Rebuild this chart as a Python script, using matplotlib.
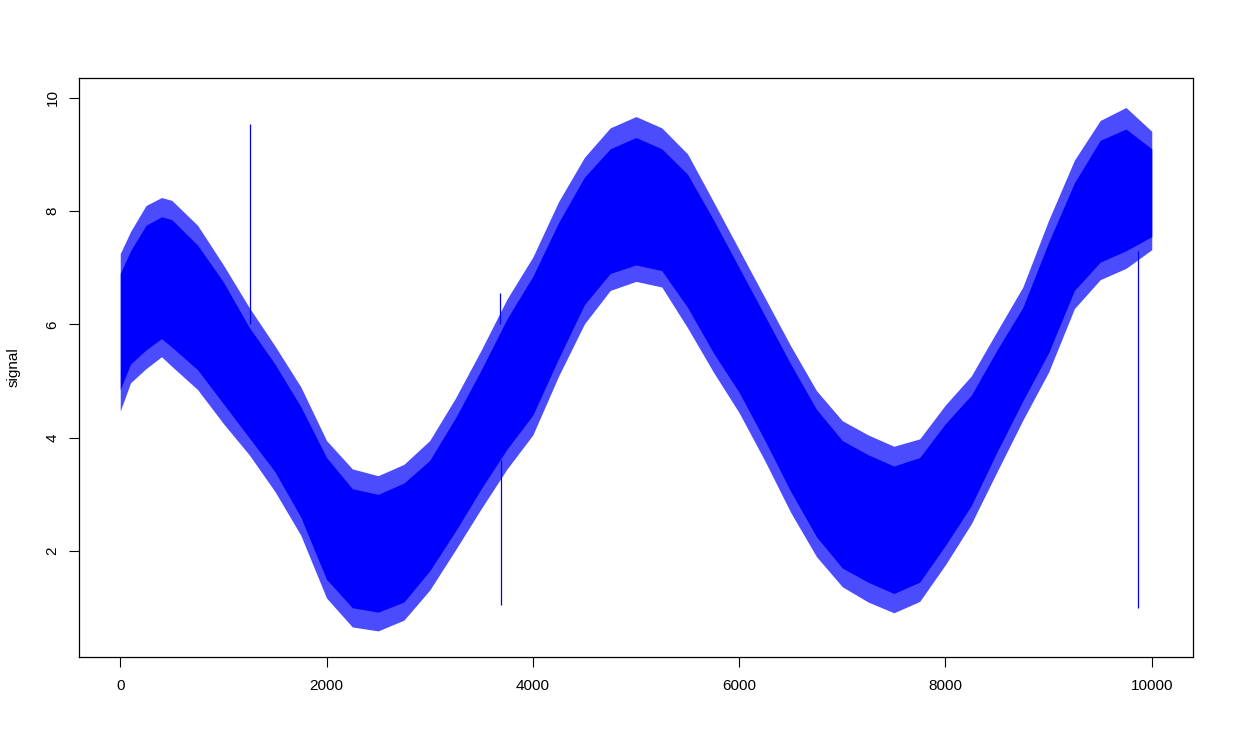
import matplotlib
matplotlib.use("Agg")
import matplotlib.pyplot as plt

# envelope of the noisy signal, every 250 samples
x = [0, 100, 250, 400, 500, 750, 1000, 1250, 1500, 1750, 2000, 2250, 2500, 2750,
     3000, 3250, 3500, 3750, 4000, 4250, 4500, 4750, 5000, 5250, 5500, 5750, 6000,
     6250, 6500, 6750, 7000, 7250, 7500, 7750, 8000, 8250, 8500, 8750, 9000, 9250,
     9500, 9750, 10000]
upper = [7.25, 7.64, 8.10, 8.24, 8.19, 7.75, 7.05, 6.30, 5.62, 4.90, 3.95, 3.45, 3.33, 3.53,
         3.95, 4.70, 5.55, 6.45, 7.19, 8.17, 8.95, 9.47, 9.67, 9.47, 9.01, 8.17, 7.32,
         6.47, 5.62, 4.83, 4.30, 4.05, 3.85, 3.98, 4.58, 5.09, 5.88, 6.66, 7.84, 8.90,
         9.60, 9.83, 9.41]
lower = [4.47, 4.97, 5.22, 5.43, 5.26, 4.85, 4.25, 3.70, 3.05, 2.28, 1.17, 0.66, 0.59, 0.78,
         1.31, 2.02, 2.75, 3.45, 4.05, 5.09, 6.01, 6.60, 6.76, 6.66, 5.94, 5.16, 4.44,
         3.59, 2.68, 1.90, 1.37, 1.10, 0.91, 1.11, 1.76, 2.48, 3.40, 4.31, 5.16, 6.28,
         6.79, 6.99, 7.32]
# dense core of the band
upper_core = [6.90, 7.30, 7.75, 7.90, 7.85, 7.40, 6.75, 5.95, 5.30, 4.55, 3.65, 3.10, 3.00, 3.20,
              3.60, 4.35, 5.20, 6.10, 6.85, 7.80, 8.60, 9.10, 9.30, 9.10, 8.65, 7.85, 7.00,
              6.15, 5.30, 4.50, 3.95, 3.70, 3.50, 3.65, 4.25, 4.75, 5.55, 6.30, 7.45, 8.50,
              9.25, 9.45, 9.10]
lower_core = [4.85, 5.30, 5.55, 5.75, 5.60, 5.20, 4.60, 4.00, 3.40, 2.60, 1.50, 1.00, 0.92, 1.10,
              1.65, 2.35, 3.10, 3.80, 4.40, 5.40, 6.35, 6.90, 7.05, 6.95, 6.30, 5.50, 4.80,
              3.95, 3.05, 2.25, 1.70, 1.45, 1.25, 1.45, 2.10, 2.80, 3.75, 4.65, 5.50, 6.60,
              7.10, 7.30, 7.55]

# isolated outlier spikes: position, base value, tip value
spike_x = [1260, 3680, 3692, 9864]
spike_from = [6.0, 6.0, 3.6, 7.3]
spike_to = [9.53, 6.55, 1.05, 1.0]

plt.rcParams["font.family"] = ["Liberation Sans", "DejaVu Sans"]
fig = plt.figure(figsize=(12.34, 7.56), dpi=100)
ax = fig.add_axes([0.064, 0.131, 0.9028, 0.7658])

ax.fill_between(x, lower, upper, color="blue", alpha=0.7, linewidth=0)
ax.fill_between(x, lower_core, upper_core, color="blue", linewidth=0)
ax.vlines(spike_x, spike_from, spike_to, color="blue", linewidth=0.9)

ax.set_xlim(-400, 10400)
ax.set_ylim(0.13, 10.35)
ax.set_xticks([0, 2000, 4000, 6000, 8000, 10000])
ax.set_yticks([2, 4, 6, 8, 10])
ax.tick_params(axis="both", direction="out", length=7, width=0.8, labelsize=11, colors="black")
ax.tick_params(axis="x", pad=9)
ax.tick_params(axis="y", pad=7)
for lab in ax.get_yticklabels():
    lab.set_rotation(90)
    lab.set_va("center")
for s in ax.spines.values():
    s.set_linewidth(0.9)
ax.set_ylabel("signal", fontsize=11)
ax.yaxis.set_label_coords(-0.052, 0.5)

fig.savefig("out.png", dpi=100)
